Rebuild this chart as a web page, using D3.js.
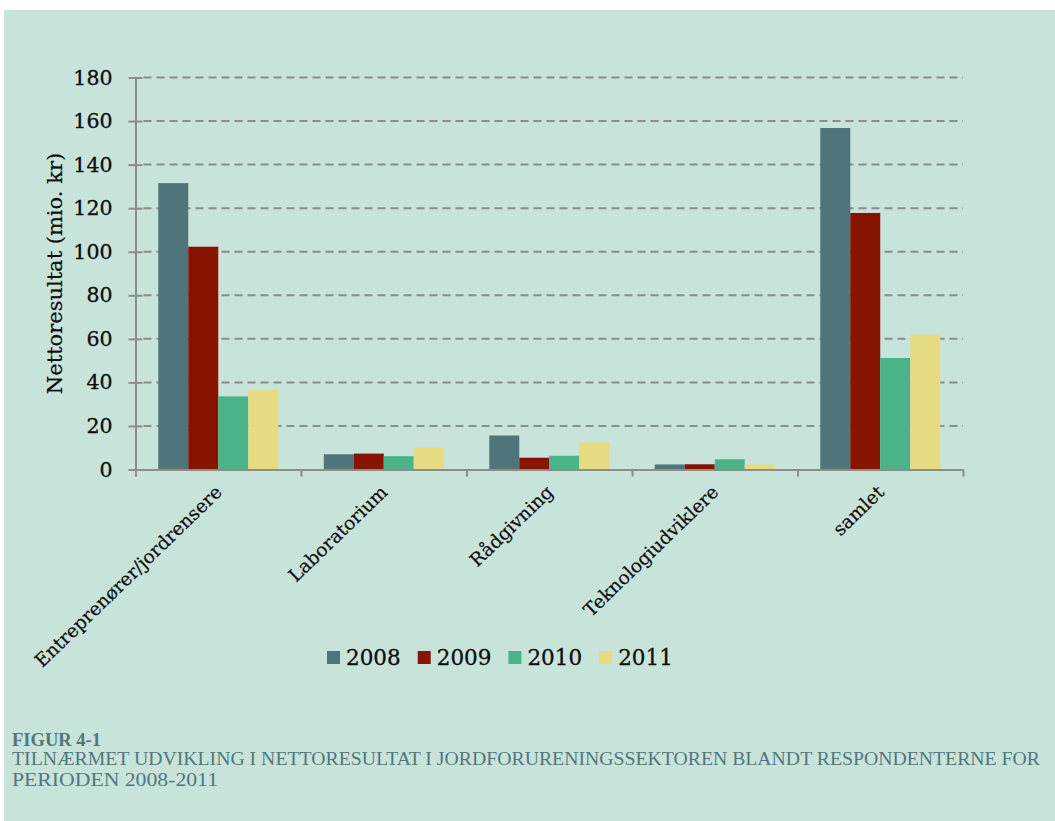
<!DOCTYPE html>
<html>
<head>
<meta charset="utf-8">
<script src="https://cdn.jsdelivr.net/npm/d3@7/dist/d3.min.js"></script>
<style>
  html, body { margin: 0; padding: 0; background: #ffffff; }
  svg { display: block; }
</style>
</head>
<body>
<svg id="chart" width="1055" height="821"></svg>
<script>
// Net result per segment of the soil contamination sector, 2008–2011 (mio. kr)
const categories = ["Entreprenører/jordrensere", "Laboratorium", "Rådgivning", "Teknologiudviklere", "samlet"];
const years = ["2008", "2009", "2010", "2011"];
const values2008 = [131.5, 7.0, 15.6, 2.3, 156.8];
const values2009 = [102.3, 7.3, 5.4, 2.4, 117.8];
const values2010 = [33.6, 6.1, 6.3, 4.7, 51.2];
const values2011 = [36.6, 10.0, 12.4, 2.3, 61.9];
const yTicks = [0, 20, 40, 60, 80, 100, 120, 140, 160, 180];
const yTitle = "Nettoresultat (mio. kr)";
const figLabel = "FIGUR 4-1";
const captionLines = [
  "TILNÆRMET UDVIKLING I NETTORESULTAT I JORDFORURENINGSSEKTOREN BLANDT RESPONDENTERNE FOR",
  "PERIODEN 2008-2011"
];
const colors = ["#4f747a", "#861400", "#4ab38a", "#e6da83"];

const series = [values2008, values2009, values2010, values2011];
const svg = d3.select("#chart");

// panel background
svg.append("rect").attr("x", 4).attr("y", 10).attr("width", 1051).attr("height", 811).attr("fill", "#c7e3da");

const plot = { left: 135.5, right: 963, top: 77.5, bottom: 469.5 };

const x = d3.scaleBand().domain(categories).range([plot.left, plot.right]).paddingInner(0).paddingOuter(0);
const xs = d3.scaleBand().domain(years).range([0, x.bandwidth()]).paddingInner(0).paddingOuter(0.76);
const y = d3.scaleLinear().domain([0, 180]).range([plot.bottom, plot.top]);

const fontSerif = "'DejaVu Serif', serif";
const textColor = "#0d0d0d";

// dashed gridlines
svg.append("g")
  .selectAll("line")
  .data(yTicks.filter(d => d > 0))
  .join("line")
  .attr("x1", plot.left + 8).attr("x2", plot.right)
  .attr("y1", d => y(d)).attr("y2", d => y(d))
  .attr("stroke", "#8c8c8c").attr("stroke-width", 2).attr("stroke-dasharray", "8,5");

// bars
const groups = svg.append("g")
  .selectAll("g")
  .data(years)
  .join("g")
  .attr("fill", (d, i) => colors[i]);

groups.selectAll("rect")
  .data((yr, i) => categories.map((c, j) => ({ c, yr, v: series[i][j] })))
  .join("rect")
  .attr("x", d => x(d.c) + xs(d.yr))
  .attr("width", xs.bandwidth())
  .attr("y", d => y(d.v))
  .attr("height", d => y(0) - y(d.v));

// y axis
const yAxis = svg.append("g")
  .attr("transform", `translate(${plot.left},0)`)
  .call(d3.axisLeft(y).tickValues(yTicks).tickSizeInner(7).tickSizeOuter(0).tickPadding(16));
yAxis.select(".domain").attr("stroke", "#8c8c8c").attr("stroke-width", 2);
yAxis.selectAll(".tick line").attr("x1", 7).attr("stroke", "#8c8c8c").attr("stroke-width", 2);
yAxis.selectAll(".tick text")
  .attr("font-family", fontSerif).attr("font-size", 20.5).attr("fill", textColor)
  .attr("stroke", textColor).attr("stroke-width", 0.3);

// x axis with ticks at category boundaries
const xEdge = d3.scaleLinear().domain([0, categories.length]).range([plot.left, plot.right]);
const xAxis = svg.append("g")
  .attr("transform", `translate(0,${plot.bottom})`)
  .call(d3.axisBottom(xEdge).tickValues(d3.range(categories.length + 1)).tickFormat("").tickSizeInner(7).tickSizeOuter(0));
xAxis.select(".domain").attr("stroke", "#8c8c8c").attr("stroke-width", 2);
xAxis.selectAll(".tick line").attr("stroke", "#8c8c8c").attr("stroke-width", 2);

// rotated category labels
svg.append("g")
  .selectAll("text")
  .data(categories)
  .join("text")
  .attr("transform", d => `translate(${x(d) + x.bandwidth() / 2 + 5},${plot.bottom + 24}) rotate(-44)`)
  .attr("text-anchor", "end")
  .attr("font-family", fontSerif).attr("font-size", 18.5).attr("fill", textColor)
  .attr("stroke", textColor).attr("stroke-width", 0.2)
  .text(d => d);

// y axis title
svg.append("text")
  .attr("transform", `translate(62,${(plot.top + plot.bottom) / 2}) rotate(-90)`)
  .attr("text-anchor", "middle")
  .attr("font-family", fontSerif).attr("font-size", 21).attr("fill", textColor)
  .attr("stroke", textColor).attr("stroke-width", 0.2)
  .text(yTitle);

// legend
const legend = svg.append("g").attr("transform", "translate(327,651)");
let lx = 0;
years.forEach((yr, i) => {
  const g = legend.append("g").attr("transform", `translate(${lx},0)`);
  g.append("rect").attr("width", 13).attr("height", 13).attr("fill", colors[i]);
  const t = g.append("text").attr("x", 19).attr("y", 13.5)
    .attr("font-family", fontSerif).attr("font-size", 21.5).attr("fill", textColor)
    .attr("stroke", textColor).attr("stroke-width", 0.3).text(yr);
  lx += 19 + t.node().getComputedTextLength() + 17;
});

// figure caption
const capColor = "#52777b";
const capFont = "'Liberation Serif', serif";
svg.append("text")
  .attr("x", 12).attr("y", 746)
  .attr("font-family", capFont).attr("font-size", 18).attr("font-weight", "bold")
  .attr("fill", capColor)
  .attr("textLength", 89).attr("lengthAdjust", "spacingAndGlyphs")
  .text(figLabel);
svg.append("text")
  .attr("x", 12).attr("y", 765)
  .attr("font-family", capFont).attr("font-size", 18)
  .attr("fill", capColor)
  .attr("textLength", 1028).attr("lengthAdjust", "spacingAndGlyphs")
  .text(captionLines[0]);
svg.append("text")
  .attr("x", 12).attr("y", 786)
  .attr("font-family", capFont).attr("font-size", 18)
  .attr("fill", capColor)
  .attr("textLength", 206).attr("lengthAdjust", "spacingAndGlyphs")
  .text(captionLines[1]);
</script>
</body>
</html>
